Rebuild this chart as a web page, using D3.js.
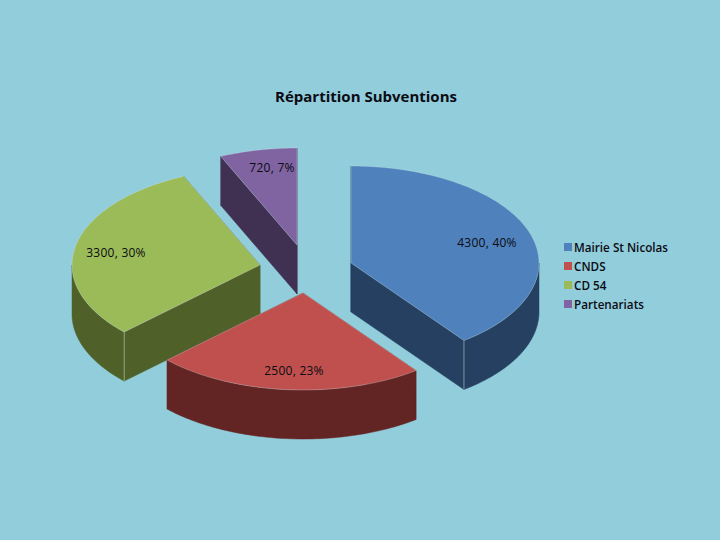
<!DOCTYPE html>
<html><head><meta charset="utf-8">
<script src="https://cdn.jsdelivr.net/npm/d3@7"></script>
<style>html,body{margin:0;padding:0;background:#92cddc}svg{display:block}text{fill:#0b0b12}</style>
</head><body><div id="c"></div>
<script>
const categories = ["Mairie St Nicolas","CNDS","CD 54","Partenariats"];
const values = [4300,2500,3300,720];
const percents = ["40%","23%","30%","7%"];
const topColors = ["#4f81bd","#c0504d","#9bbb59","#8064a2"];
const sideColors = ["#254061","#632523","#4f6128","#403152"];
const apexX = [351,303,260,297];
const apexY = [263,293,265,245];
const labelX = [487,294,116,272];
const labelY = [243,371,253,168];
const drawOrder = [3,2,0,1];
const W=720,H=540,rx=188,ry=97,depth=49;
const svg=d3.select("#c").append("svg").attr("width",W).attr("height",H);
svg.append("rect").attr("width",W).attr("height",H).attr("fill","#92cddc");
const pie=d3.pie().sort(null)(values);
const sx=d3.scaleLinear().domain([-1,1]).range([-rx,rx]);
const sy=d3.scaleLinear().domain([-1,1]).range([-ry,ry]);
const line=d3.line().x(d=>d[0]).y(d=>d[1]);
function rim(i,a0,a1,dz){
  const n=Math.max(2,Math.ceil(Math.abs(a1-a0)/0.02));
  return d3.range(n+1).map(k=>{const a=a0+(a1-a0)*k/n;
    return [apexX[i]+sx(Math.sin(a)),apexY[i]-sy(Math.cos(a))+dz];});
}
const g=svg.append("g");
drawOrder.forEach(i=>{
  const p=pie[i],a0=p.startAngle,a1=p.endAngle,A=[apexX[i],apexY[i]];
  const side=sideColors[i];
  [a0,a1].forEach(a=>{
    const e=rim(i,a,a,0)[0];
    g.append("path").attr("d",line([A,e,[e[0],e[1]+depth],[A[0],A[1]+depth]])+"Z")
     .attr("fill",side).attr("stroke",side).attr("stroke-width",0.5);
  });
  const lo=Math.max(a0,Math.PI/2),hi=Math.min(a1,3*Math.PI/2);
  if(hi>lo){
    const top=rim(i,lo,hi,0),bot=rim(i,lo,hi,depth).reverse();
    g.append("path").attr("d",line(top.concat(bot))+"Z")
     .attr("fill",side).attr("stroke",side).attr("stroke-width",0.5);
  }
  [a0,a1].forEach(a=>{
    if(Math.cos(a)<0&&a>Math.PI/2&&a<3*Math.PI/2&&i!==1){
      const e=rim(i,a,a,0)[0];
      g.append("line").attr("x1",e[0]).attr("y1",e[1]).attr("x2",e[0]).attr("y2",e[1]+depth)
       .attr("stroke","#c9d6cf").attr("stroke-width",0.8).attr("opacity",.7);
    }
  });
  g.append("path").attr("d",line([A].concat(rim(i,a0,a1,0)))+"Z")
   .attr("fill",topColors[i]).attr("stroke","#d5e3e6").attr("stroke-width",0.6).attr("stroke-opacity",.5);
});
const font="'Open Sans',sans-serif";
svg.append("text").attr("x",366).attr("y",102).attr("text-anchor","middle")
  .attr("font-family",font).attr("font-weight",700).attr("font-size",15).text("Répartition Subventions");
svg.selectAll("text.lab").data(values).join("text").attr("class","lab")
  .attr("x",(d,i)=>labelX[i]).attr("y",(d,i)=>labelY[i]+4).attr("text-anchor","middle")
  .attr("font-family",font).attr("font-size",12).attr("letter-spacing",0.25).text((d,i)=>d+", "+percents[i]);
const leg=svg.append("g").selectAll("g").data(categories).join("g")
  .attr("transform",(d,i)=>`translate(564,${247+i*19})`);
leg.append("rect").attr("x",0).attr("y",-4).attr("width",8).attr("height",8).attr("fill",(d,i)=>topColors[i]);
leg.append("text").attr("x",10).attr("y",5).attr("font-family",font).attr("font-weight",600).attr("font-size",11.7).text(d=>d);
</script></body></html>
